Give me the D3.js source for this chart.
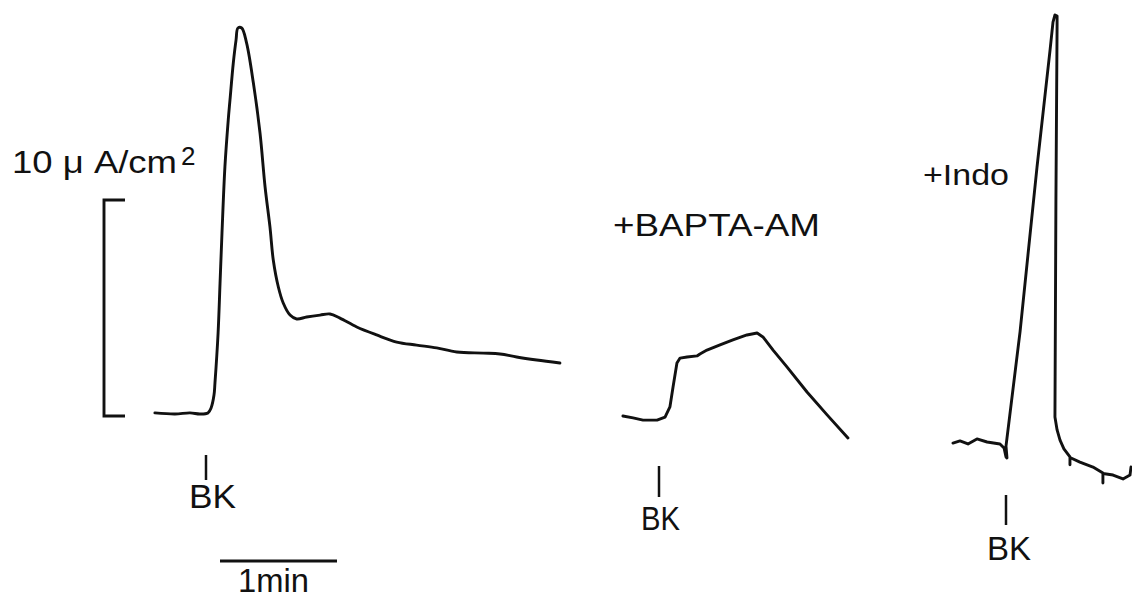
<!DOCTYPE html>
<html>
<head>
<meta charset="utf-8">
<script src="https://cdn.jsdelivr.net/npm/d3@7"></script>
<style>
  html, body { margin: 0; padding: 0; background: #fff; }
  svg text { font-family: "Liberation Sans", Arial, Helvetica, sans-serif; fill: #111; }
</style>
</head>
<body>
<svg id="chart" width="1132" height="601"></svg>
<script>
// Short-circuit current responses to bradykinin (BK), time in s from BK addition,
// current in µA/cm² above the pre-stimulus baseline.

// Control
const controlTime = [-26.2, -15.9, -8.2, -3.1, 1.0, 2.6, 4.1, 4.6, 6.2, 7.2, 8.2, 9.7, 11.4, 12.3,
  14.0, 15.4, 16.4, 18.3, 20.8, 24.3, 27.7, 30.3, 32.8, 34.5, 37.1, 39.6, 43.1, 46.5, 51.6, 58.5,
  63.6, 68.7, 77.3, 87.5, 97.8, 108.0, 118.3, 128.6, 142.2, 150.8, 159.3, 169.6, 181.5];
const controlCurrent = [0.05, 0, 0.05, 0, 0.05, 0.28, 0.88, 1.44, 3.75, 6.06, 8.38, 11.44, 13.61, 14.54,
  16.25, 17.31, 17.87, 17.87, 17.18, 15.32, 13.01, 10.51, 8.66, 7.13, 5.88, 5.14, 4.58, 4.40, 4.49, 4.58,
  4.63, 4.44, 4.03, 3.66, 3.33, 3.19, 3.06, 2.87, 2.82, 2.78, 2.64, 2.50, 2.36];

// +BAPTA-AM
const baptaTime = [-18.5, -13.3, -8.2, -1.0, 3.1, 5.6, 7.2, 9.2, 10.8, 14.4, 19.5, 21.0, 24.6, 31.3,
  37.9, 45.1, 50.3, 53.3, 58.5, 65.6, 75.9, 86.2, 96.9];
const baptaCurrent = [0.14, 0.05, -0.05, -0.05, 0.09, 0.56, 1.48, 2.59, 2.82, 2.87, 2.92, 3.01, 3.19, 3.43,
  3.66, 3.89, 3.98, 3.80, 3.19, 2.41, 1.25, 0.19, -0.88];

// +Indo
const indoTime = [-27.2, -23.6, -19.5, -14.9, -9.7, -3.1, -1.0, 0, 0.5, 0, 7.2, 15.9, 22.6, 24.1, 25.1,
  26.2, 26.2, 25.6, 25.1, 26.2, 27.7, 29.7, 32.8, 32.8, 32.8, 37.9, 44.6, 49.7, 49.7, 49.7, 54.9, 60.0,
  63.6, 64.1];
const indoCurrent = [-0.05, 0.05, -0.09, 0.14, 0, -0.09, -0.28, -0.69, -0.74, -0.19, 5.10, 12.73, 18.15,
  19.44, 19.77, 19.72, 19.31, 11.20, 1.16, 0.56, 0.09, -0.32, -0.69, -1.05, -0.72, -0.93, -1.16, -1.44,
  -1.90, -1.46, -1.53, -1.71, -1.53, -1.16];

const traceLabels = ["", "+BAPTA-AM", "+Indo"];
const stimulusLabel = "BK";
const currentBar = 10;      // µA/cm²
const timeBar = 60;         // s
const currentBarLabel = "10 \u03bc A/cm";
const currentBarUnitPower = "2";
const timeBarLabel = "1min";

const traces = [
  { time: controlTime, current: controlCurrent, curve: d3.curveCatmullRom.alpha(0.5) },
  { time: baptaTime, current: baptaCurrent, curve: d3.curveLinear },
  { time: indoTime, current: indoCurrent, curve: d3.curveLinear }
];

// Where each trace's BK point sits on the page, and where its labels go
const layout = [
  { ox: 206, oy: 414, tick: [41, 66], bk: { x: 189, y: 508, w: 47 } },
  { ox: 659, oy: 419, tick: [47, 78], bk: { x: 641, y: 530, w: 39 }, label: { x: 613, y: 236, w: 207, size: 31 } },
  { ox: 1006, oy: 442, tick: [53, 83], bk: { x: 987, y: 560, w: 44 }, label: { x: 923, y: 185, w: 86, size: 30 } }
];

const svg = d3.select("#chart");
const ink = "#111";
const penWidth = 2.9;

// Shared time and current scales (relative to each trace's origin)
const x = d3.scaleLinear().domain([0, timeBar]).range([0, 117]);
const y = d3.scaleLinear().domain([0, currentBar]).range([0, -216]);

traces.forEach((tr, i) => {
  const L = layout[i];
  const g = svg.append("g").attr("transform", `translate(${L.ox},${L.oy})`);
  const pts = tr.time.map((t, k) => [t, tr.current[k]]);
  const line = d3.line().x(d => x(d[0])).y(d => y(d[1])).curve(tr.curve);
  g.append("path")
    .attr("d", line(pts))
    .attr("fill", "none")
    .attr("stroke", ink)
    .attr("stroke-width", penWidth)
    .attr("stroke-linejoin", "round")
    .attr("stroke-linecap", "round");

  // BK addition marker
  g.append("line")
    .attr("x1", x(0)).attr("x2", x(0))
    .attr("y1", L.tick[0]).attr("y2", L.tick[1])
    .attr("stroke", ink).attr("stroke-width", 2.5);

  svg.append("text")
    .attr("x", L.bk.x).attr("y", L.bk.y)
    .attr("font-size", 34)
    .attr("textLength", L.bk.w)
    .attr("lengthAdjust", "spacingAndGlyphs")
    .text(stimulusLabel);

  if (L.label) {
    svg.append("text")
      .attr("x", L.label.x).attr("y", L.label.y)
      .attr("font-size", L.label.size)
      .attr("textLength", L.label.w)
      .attr("lengthAdjust", "spacingAndGlyphs")
      .text(traceLabels[i]);
  }
});

// Current calibration bracket
const cb = svg.append("g").attr("transform", "translate(104,416)");
cb.append("path")
  .attr("d", d3.line()([[21, y(currentBar)], [0, y(currentBar)], [0, y(0)], [21, y(0)]]))
  .attr("fill", "none").attr("stroke", ink).attr("stroke-width", penWidth);

svg.append("text")
  .attr("x", 12).attr("y", 173)
  .attr("font-size", 31)
  .attr("textLength", 165)
  .attr("lengthAdjust", "spacingAndGlyphs")
  .text(currentBarLabel);
svg.append("text")
  .attr("x", 181).attr("y", 165)
  .attr("font-size", 26)
  .text(currentBarUnitPower);

// Time calibration bar
const tb = svg.append("g").attr("transform", "translate(220,561)");
tb.append("line")
  .attr("x1", x(0)).attr("x2", x(timeBar))
  .attr("y1", 0).attr("y2", 0)
  .attr("stroke", ink).attr("stroke-width", penWidth);
svg.append("text")
  .attr("x", 238).attr("y", 592)
  .attr("font-size", 33)
  .attr("textLength", 71)
  .attr("lengthAdjust", "spacingAndGlyphs")
  .text(timeBarLabel);
</script>
</body>
</html>
